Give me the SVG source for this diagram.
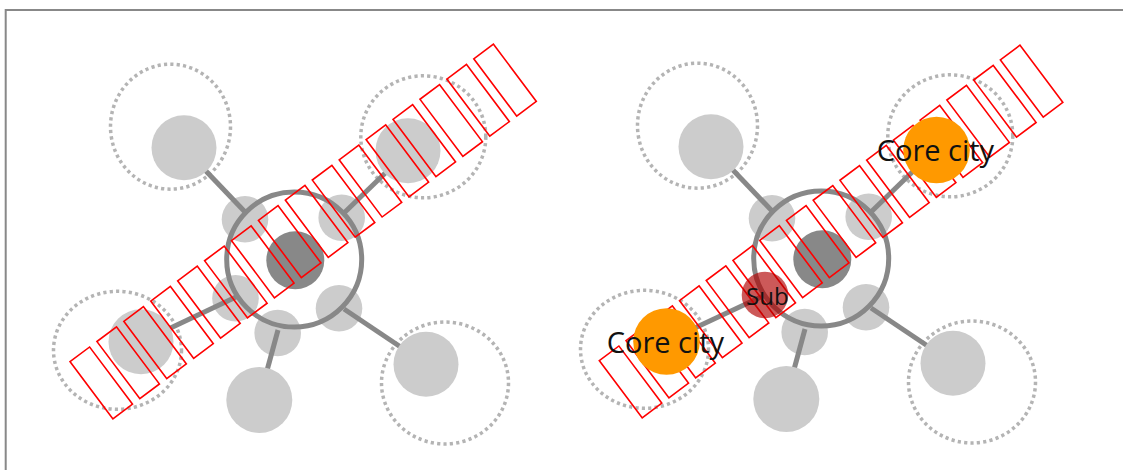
<svg xmlns="http://www.w3.org/2000/svg" width="1123" height="470" viewBox="0 0 1123 470">
  <style>
    .zone { fill: none; stroke: #b4b4b4; stroke-width: 3.5; stroke-dasharray: 3.2 3.2; }
    .sat { fill: #cccccc; }
    .city { fill: #cccccc; }
    .ring { fill: none; stroke: #888888; stroke-width: 5; }
    .hub { fill: #888888; }
    .link { stroke: #888888; stroke-width: 5; stroke-linecap: butt; }
    .core { fill: #ff9900; }
    .sub { fill: #b00000; fill-opacity: 0.65; }
    .box { fill: none; stroke: #ff0000; stroke-width: 1.6; }
    .label { font-family: "Open Sans", "Noto Sans", "DejaVu Sans", sans-serif; fill: #111111; }
  </style>

  <!-- frame -->
  <rect x="5.7" y="10" width="1200" height="500" fill="#ffffff" stroke="#888888" stroke-width="2"/>

  <!-- ===== left panel ===== -->
  <g id="left-panel">
    <g id="left-zones">
      <ellipse class="zone" cx="170.5" cy="126.7" rx="60" ry="62.5"/>
      <ellipse class="zone" cx="423.3" cy="136.8" rx="62.5" ry="61"/>
      <ellipse class="zone" cx="117.5" cy="350.3" rx="64" ry="59"/>
      <ellipse class="zone" cx="445" cy="383" rx="63.5" ry="61"/>
    </g>
    <g id="left-sat-ul"><circle class="sat" cx="245" cy="219.3" r="23.3"/></g>
    <g id="left-sat-ur"><circle class="sat" cx="341.7" cy="217.7" r="23.3"/></g>
    <g id="left-sat-l"><circle class="sat" cx="235.5" cy="298.3" r="23.3"/></g>
    <g id="left-sat-b"><circle class="sat" cx="277.7" cy="333" r="23.3"/></g>
    <g id="left-sat-br"><circle class="sat" cx="339" cy="308.3" r="23.3"/></g>
    <g id="left-links">
      <line class="link" x1="184" y1="148" x2="246" y2="213"/>
      <line class="link" x1="408" y1="151" x2="344" y2="213"/>
      <line class="link" x1="141" y1="342" x2="236" y2="297"/>
      <line class="link" x1="259" y1="400" x2="278" y2="330"/>
      <line class="link" x1="426" y1="364" x2="344" y2="309"/>
    </g>
    <g id="left-hub">
      <circle class="ring" cx="294.2" cy="259.5" r="67.5"/>
      <circle class="hub" cx="295.3" cy="260.2" r="29"/>
    </g>
    <g id="left-city-tl"><circle class="city" cx="184" cy="147.7" r="32.5"/></g>
    <g id="left-city-tr"><circle class="city" cx="408" cy="150.7" r="32.5"/></g>
    <g id="left-city-l"><circle class="city" cx="141" cy="341.7" r="32.5"/></g>
    <g id="left-city-b"><circle class="city" cx="259.3" cy="400" r="33"/></g>
    <g id="left-city-br"><circle class="city" cx="426" cy="364.3" r="32.5"/></g>
    <!-- placeholder glyph boxes along the axis -->
    <g id="left-axis-boxes" transform="translate(70,361.7) rotate(-36.87)">
      <rect class="box" x="0" y="0" width="24.5" height="71.5"/>
      <rect class="box" x="33.65" y="0" width="24.5" height="71.5"/>
      <rect class="box" x="67.3" y="0" width="24.5" height="71.5"/>
      <rect class="box" x="100.95" y="0" width="24.5" height="71.5"/>
      <rect class="box" x="134.6" y="0" width="24.5" height="71.5"/>
      <rect class="box" x="168.25" y="0" width="24.5" height="71.5"/>
      <rect class="box" x="201.9" y="0" width="24.5" height="71.5"/>
      <rect class="box" x="235.55" y="0" width="24.5" height="71.5"/>
      <rect class="box" x="269.2" y="0" width="24.5" height="71.5"/>
      <rect class="box" x="302.85" y="0" width="24.5" height="71.5"/>
      <rect class="box" x="336.5" y="0" width="24.5" height="71.5"/>
      <rect class="box" x="370.15" y="0" width="24.5" height="71.5"/>
      <rect class="box" x="403.8" y="0" width="24.5" height="71.5"/>
      <rect class="box" x="437.45" y="0" width="24.5" height="71.5"/>
      <rect class="box" x="471.1" y="0" width="24.5" height="71.5"/>
      <rect class="box" x="504.75" y="0" width="24.5" height="71.5"/>
    </g>
  </g>

  <!-- ===== right panel ===== -->
  <g id="right-panel">
    <g id="right-zones" transform="translate(527,-1)">
      <ellipse class="zone" cx="170.5" cy="126.7" rx="60" ry="62.5"/>
      <ellipse class="zone" cx="423.3" cy="136.8" rx="62.5" ry="61"/>
      <ellipse class="zone" cx="117.5" cy="350.3" rx="64" ry="59"/>
      <ellipse class="zone" cx="445" cy="383" rx="63.5" ry="61"/>
    </g>
    <g id="right-sat-ul"><circle class="sat" cx="772" cy="218.3" r="23.3"/></g>
    <g id="right-sat-ur"><circle class="sat" cx="868.7" cy="216.7" r="23.3"/></g>
    <g id="right-sat-b"><circle class="sat" cx="804.7" cy="332" r="23.3"/></g>
    <g id="right-sat-br"><circle class="sat" cx="866" cy="307.3" r="23.3"/></g>
    <g id="right-links">
      <line class="link" x1="711" y1="147" x2="773" y2="212"/>
      <line class="link" x1="935" y1="150" x2="871" y2="212"/>
      <line class="link" x1="667" y1="341" x2="763" y2="296"/>
      <line class="link" x1="786" y1="399" x2="805" y2="329"/>
      <line class="link" x1="953" y1="363" x2="871" y2="308"/>
    </g>
    <g id="right-hub">
      <circle class="ring" cx="821.2" cy="258.5" r="67.5"/>
      <circle class="hub" cx="822.3" cy="259.2" r="29"/>
    </g>
    <g id="right-city-tl"><circle class="city" cx="711" cy="146.7" r="32.5"/></g>
    <g id="right-city-b"><circle class="city" cx="786.3" cy="399" r="33"/></g>
    <g id="right-city-br"><circle class="city" cx="953" cy="363.3" r="32.5"/></g>
    <g id="right-axis-boxes" transform="translate(599.3,360.7) rotate(-36.87)">
      <rect class="box" x="0" y="0" width="24.5" height="71.5"/>
      <rect class="box" x="33.42" y="0" width="24.5" height="71.5"/>
      <rect class="box" x="66.84" y="0" width="24.5" height="71.5"/>
      <rect class="box" x="100.26" y="0" width="24.5" height="71.5"/>
      <rect class="box" x="133.68" y="0" width="24.5" height="71.5"/>
      <rect class="box" x="167.1" y="0" width="24.5" height="71.5"/>
      <rect class="box" x="200.52" y="0" width="24.5" height="71.5"/>
      <rect class="box" x="233.94" y="0" width="24.5" height="71.5"/>
      <rect class="box" x="267.36" y="0" width="24.5" height="71.5"/>
      <rect class="box" x="300.78" y="0" width="24.5" height="71.5"/>
      <rect class="box" x="334.2" y="0" width="24.5" height="71.5"/>
      <rect class="box" x="367.62" y="0" width="24.5" height="71.5"/>
      <rect class="box" x="401.04" y="0" width="24.5" height="71.5"/>
      <rect class="box" x="434.46" y="0" width="24.5" height="71.5"/>
      <rect class="box" x="467.88" y="0" width="24.5" height="71.5"/>
      <rect class="box" x="501.3" y="0" width="24.5" height="71.5"/>
    </g>
    <g id="right-sub">
      <circle class="sub" cx="765" cy="295" r="23.3"/>
      <text class="label" x="746" y="305" font-size="24">Sub</text>
    </g>
    <g id="right-core-l">
      <circle class="core" cx="666.5" cy="341.5" r="33.3"/>
      <text class="label" x="606.7" y="353" font-size="29">Core city</text>
    </g>
    <g id="right-core-tr">
      <circle class="core" cx="936.5" cy="150" r="33.3"/>
      <text class="label" x="876.7" y="161" font-size="29">Core city</text>
    </g>
  </g>
</svg>
